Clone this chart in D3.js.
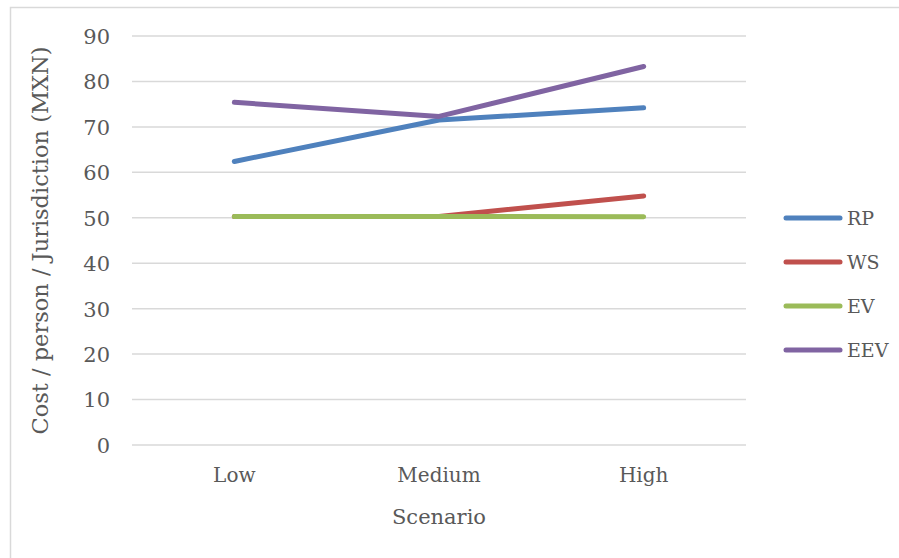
<!DOCTYPE html>
<html>
<head>
<meta charset="utf-8">
<script src="https://cdn.jsdelivr.net/npm/d3@7.9.0/dist/d3.min.js"></script>
<style>
  body { margin: 0; background: #fff; }
  text { font-family: "DejaVu Serif", "Liberation Serif", serif; fill: #595959; }
</style>
</head>
<body>
<svg id="chart" width="899" height="558"></svg>
<script>
// data
const scenarios = ['Low', 'Medium', 'High'];
const seriesNames = ['RP', 'WS', 'EV', 'EEV'];
const rp = [62.4, 71.5, 74.2];
const ws = [50.3, 50.3, 54.8];
const ev = [50.3, 50.3, 50.2];
const eev = [75.4, 72.3, 83.3];
const yTicks = [0, 10, 20, 30, 40, 50, 60, 70, 80, 90];

const seriesValues = [rp, ws, ev, eev];
const colors = d3.scaleOrdinal(seriesNames, ['#4f81bd', '#c0504d', '#9bbb59', '#8064a2']);

const svg = d3.select('#chart');

// outer chart border
svg.append('rect')
  .attr('x', 10.5).attr('y', 7.5)
  .attr('width', 900).attr('height', 560)
  .attr('fill', 'none')
  .attr('stroke', '#d9d9d9')
  .attr('stroke-width', 1.5);

const plotL = 132, plotR = 746, plotT = 36, plotB = 445;

let x = d3.scaleBand().domain(scenarios).range([plotL, plotR]);
let y = d3.scaleLinear().domain([0, 90]).range([plotB, plotT]);

// gridlines
svg.append('g')
  .selectAll('line')
  .data(yTicks)
  .join('line')
  .attr('x1', plotL).attr('x2', plotR)
  .attr('y1', d => y(d)).attr('y2', d => y(d))
  .attr('stroke', '#d9d9d9')
  .attr('stroke-width', 1.5);

// y axis labels
const yAxis = svg.append('g')
  .attr('transform', `translate(${plotL - 22},0)`)
  .call(d3.axisLeft(y).tickValues(yTicks).tickSize(0).tickPadding(0));
yAxis.select('.domain').remove();
yAxis.selectAll('text').style('font-size', '21px').style('font-family', '"DejaVu Serif", serif').attr('fill', '#595959').attr('dy', '0.35em');

// x axis labels
const xAxis = svg.append('g')
  .attr('transform', `translate(0,${plotB + 19})`)
  .call(d3.axisBottom(x).tickSize(0).tickPadding(0));
xAxis.select('.domain').remove();
xAxis.selectAll('text').style('font-size', '20px').style('font-family', '"DejaVu Serif", serif').attr('fill', '#595959').attr('dy', '0.9em');

// axis titles
svg.append('text')
  .attr('x', (plotL + plotR) / 2).attr('y', 524)
  .attr('text-anchor', 'middle')
  .style('font-size', '21px')
  .text('Scenario');

svg.append('text')
  .attr('transform', `translate(48,${(plotT + plotB) / 2}) rotate(-90)`)
  .attr('text-anchor', 'middle')
  .style('font-size', '22.5px')
  .text('Cost / person / Jurisdiction (MXN)');

// lines
const line = d3.line()
  .x((d, i) => x(scenarios[i]) + x.bandwidth() / 2)
  .y(d => y(d));

seriesValues.forEach((vals, idx) => {
  svg.append('path')
    .datum(vals)
    .attr('d', line)
    .attr('fill', 'none')
    .attr('stroke', colors(seriesNames[idx]))
    .attr('stroke-width', 5)
    .attr('stroke-linecap', 'round')
    .attr('stroke-linejoin', 'round');
});

// legend
const legend = svg.append('g').attr('transform', 'translate(786,218)');
seriesNames.forEach((name, idx) => {
  const row = legend.append('g').attr('transform', `translate(0,${idx * 44})`);
  row.append('line')
    .attr('x1', 0).attr('x2', 54)
    .attr('stroke', colors(name))
    .attr('stroke-width', 5)
    .attr('stroke-linecap', 'round');
  row.append('text')
    .attr('x', 61).attr('dy', '0.35em')
    .style('font-size', '19px')
    .text(name);
});
</script>
</body>
</html>
